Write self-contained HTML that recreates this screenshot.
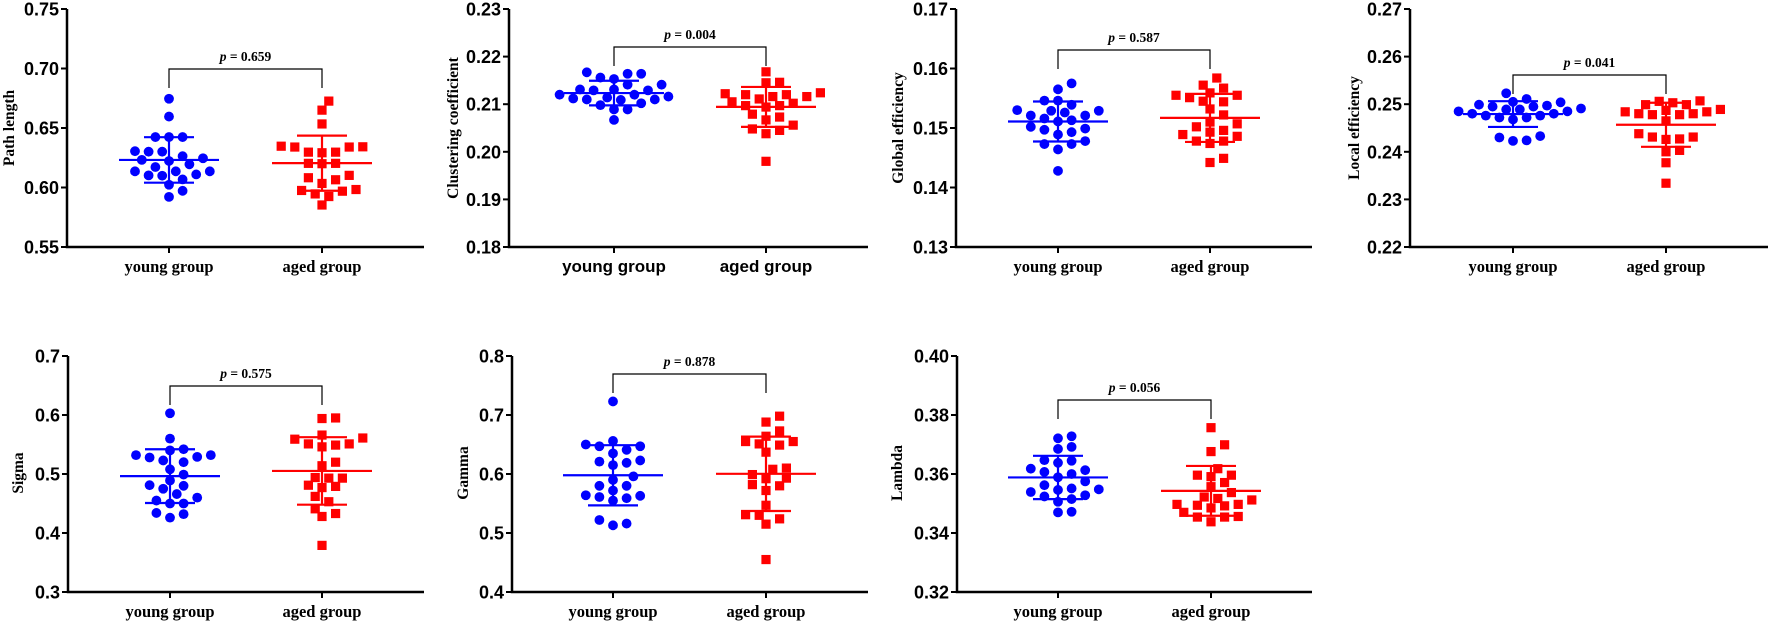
<!DOCTYPE html>
<html><head><meta charset="utf-8"><style>
html,body{margin:0;padding:0;background:#fff;}
svg{display:block;}
</style></head><body>
<svg id="chart" width="1772" height="625" viewBox="0 0 1772 625" xmlns="http://www.w3.org/2000/svg"></svg>
<script>
// ---- data ----
const groupLabels = ["young group", "aged group"];
const pathYoung = [0.6746,0.6596,0.6424,0.6424,0.6424,0.6301,0.6301,0.6305,0.6263,0.6232,0.6223,0.6246,0.6195,0.6172,0.6136,0.6110,0.6099,0.6068,0.6102,0.6136,0.6136,0.6023,0.5972,0.5921];
const pathAged = [0.6726,0.6650,0.6534,0.6342,0.6340,0.6340,0.6347,0.6297,0.6292,0.6297,0.6203,0.6200,0.6203,0.6102,0.6065,0.6082,0.6034,0.5983,0.5975,0.5946,0.5969,0.5924,0.5853];
const clusYoung = [0.2153,0.2156,0.2164,0.2164,0.2167,0.2141,0.2141,0.2131,0.2129,0.2129,0.2131,0.2120,0.2114,0.2112,0.2110,0.2102,0.2098,0.2109,0.2110,0.2089,0.2089,0.2067,0.2116,0.2120];
const clusAged = [0.2168,0.2145,0.2146,0.2124,0.2120,0.2116,0.2111,0.2116,0.2120,0.2122,0.2097,0.2094,0.2105,0.2097,0.2102,0.2073,0.2079,0.2056,0.2067,0.2045,0.2038,0.2048,0.1980];
const globYoung = [0.1575,0.1565,0.1546,0.1546,0.1539,0.1526,0.1530,0.1529,0.1521,0.1521,0.1529,0.1513,0.1516,0.1511,0.1502,0.1499,0.1497,0.1493,0.1489,0.1478,0.1473,0.1473,0.1464,0.1428];
const globAged = [0.1584,0.1572,0.1567,0.1559,0.1555,0.1555,0.1551,0.1544,0.1545,0.1532,0.1522,0.1510,0.1507,0.1502,0.1493,0.1496,0.1486,0.1489,0.1478,0.1478,0.1474,0.1449,0.1442];
const locYoung = [0.2523,0.2511,0.2505,0.2504,0.2499,0.2495,0.2495,0.2497,0.2489,0.2489,0.2485,0.2485,0.2480,0.2480,0.2476,0.2476,0.2472,0.2472,0.2468,0.2433,0.2430,0.2424,0.2423,0.2491];
const locAged = [0.2507,0.2506,0.2503,0.2499,0.2499,0.2487,0.2489,0.2484,0.2484,0.2480,0.2480,0.2478,0.2478,0.2465,0.2438,0.2431,0.2431,0.2427,0.2426,0.2400,0.2403,0.2377,0.2334];
const sigmaYoung = [0.603,0.560,0.540,0.542,0.532,0.528,0.529,0.532,0.523,0.520,0.508,0.499,0.489,0.481,0.480,0.475,0.466,0.455,0.460,0.450,0.450,0.434,0.432,0.426];
const sigmaAged = [0.594,0.595,0.561,0.566,0.559,0.551,0.549,0.551,0.546,0.520,0.514,0.494,0.493,0.493,0.481,0.479,0.477,0.462,0.453,0.441,0.433,0.428,0.379];
const gammaYoung = [0.723,0.656,0.647,0.647,0.650,0.641,0.635,0.623,0.619,0.621,0.615,0.596,0.590,0.580,0.580,0.572,0.563,0.561,0.564,0.559,0.555,0.522,0.516,0.513];
const gammaAged = [0.698,0.688,0.673,0.664,0.655,0.655,0.649,0.651,0.637,0.610,0.608,0.599,0.592,0.593,0.580,0.582,0.572,0.547,0.531,0.530,0.524,0.515,0.455];
const lambdaYoung = [0.3721,0.3728,0.3685,0.3692,0.3645,0.3647,0.3638,0.3613,0.3618,0.3607,0.3600,0.3589,0.3575,0.3562,0.3551,0.3546,0.3548,0.3539,0.3528,0.3524,0.3515,0.3506,0.3470,0.3472];
const lambdaAged = [0.3757,0.3699,0.3676,0.3618,0.3596,0.3591,0.3596,0.3571,0.3557,0.3537,0.3522,0.3517,0.3512,0.3497,0.3494,0.3492,0.3497,0.3485,0.3470,0.3454,0.3454,0.3456,0.3438];
const pValues = ["0.659","0.004","0.587","0.041","0.575","0.878","0.056"];
const axisTitles = ["Path length","Clustering coefficient","Global efficiency","Local efficiency","Sigma","Gamma","Lambda"];
const tickLabels = [
 ["0.55","0.60","0.65","0.70","0.75"],
 ["0.18","0.19","0.20","0.21","0.22","0.23"],
 ["0.13","0.14","0.15","0.16","0.17"],
 ["0.22","0.23","0.24","0.25","0.26","0.27"],
 ["0.3","0.4","0.5","0.6","0.7"],
 ["0.4","0.5","0.6","0.7","0.8"],
 ["0.32","0.34","0.36","0.38","0.40"]
];
const seriesYoung = [pathYoung,clusYoung,globYoung,locYoung,sigmaYoung,gammaYoung,lambdaYoung];
const seriesAged = [pathAged,clusAged,globAged,locAged,sigmaAged,gammaAged,lambdaAged];

// ---- layout ----
const layout = [
 {ax:67, top:9, bot:247, right:424, cx:[169,322], bY:69, tX:9, tY:128, lblY:272, sans:false},
 {ax:509, top:9, bot:247, right:868, cx:[614,766], bY:47, tX:453, tY:128, lblY:272, sans:true},
 {ax:956, top:9, bot:247, right:1312, cx:[1058,1210], bY:50, tX:898, tY:128, lblY:272, sans:false},
 {ax:1410, top:9, bot:247, right:1768, cx:[1513,1666], bY:75, tX:1354, tY:128, lblY:272, sans:false},
 {ax:68, top:356, bot:592, right:424, cx:[170,322], bY:386, tX:18, tY:473, lblY:617, sans:false},
 {ax:512, top:356, bot:592, right:868, cx:[613,766], bY:374, tX:463, tY:473, lblY:617, sans:false},
 {ax:957, top:356, bot:592, right:1312, cx:[1058,1211], bY:400, tX:897, tY:473, lblY:617, sans:false}
];
const NS = "http://www.w3.org/2000/svg";
const svg = document.getElementById("chart");
function mk(tag, attrs, parent){
  const e = document.createElementNS(NS, tag);
  for (const k in attrs) e.setAttribute(k, attrs[k]);
  (parent||svg).appendChild(e);
  return e;
}
function mean(a){return a.reduce((s,v)=>s+v,0)/a.length;}
function sd(a){const m=mean(a);return Math.sqrt(a.reduce((s,v)=>s+(v-m)*(v-m),0)/(a.length-1));}
function swarm(ys, step, dia){
  const idx = ys.map((y,i)=>i).sort((a,b)=>ys[b]-ys[a]);
  const placed = []; const off = new Array(ys.length).fill(0);
  idx.forEach(i=>{
    for (let k=0;k<40;k++){
      const cands = k===0?[0]:[k*step,-k*step];
      let ok=null;
      for (const c of cands){
        if (placed.every(p=>Math.hypot(p.x-c,p.y-ys[i])>=dia)){ok=c;break;}
      }
      if (ok!==null){off[i]=ok;placed.push({x:ok,y:ys[i]});break;}
    }
  });
  return off;
}
const serif = '"Liberation Serif", serif';
const sans = '"Liberation Sans", Arial, sans-serif';

layout.forEach((L, pi)=>{
  const g = mk("g", {});
  
  
  const ticks = tickLabels[pi].map(Number);
  const ymin = ticks[0], ymax = ticks[ticks.length-1];
  const yS = v => L.bot - (v - ymin) / (ymax - ymin) * (L.bot - L.top);
  // axes
  const axes = mk("path", {d:`M${L.ax},${L.top} V${L.bot} H${L.right}`, fill:"none", stroke:"#000", "stroke-width":2.5}, g);
  
  
  ticks.forEach((t, ti)=>{
    const y = yS(t);
    const tk = mk("line", {x1:L.ax-6, x2:L.ax, y1:y, y2:y, stroke:"#000", "stroke-width":2}, g);
    
    
    const tl = mk("text", {x:L.ax-8, y:y+6.5, "text-anchor":"end", "font-family":sans, "font-weight":"bold", "font-size":18, fill:"#000"}, g);
    tl.textContent = tickLabels[pi][ti];
    
    
  });
  const tt = mk("text", {x:0, y:0, transform:`translate(${L.tX+5},${L.tY}) rotate(-90)`, "text-anchor":"middle", "font-family":serif, "font-weight":"bold", "font-size":15.5, fill:"#000"}, g);
  tt.textContent = axisTitles[pi];
  
  
  const data = [seriesYoung[pi], seriesAged[pi]];
  const colors = ["#0000ff", "#ff0000"];
  data.forEach((arr, gi)=>{
    const cx = L.cx[gi];
    const xt = mk("line", {x1:cx, x2:cx, y1:L.bot, y2:L.bot+6, stroke:"#000", "stroke-width":2}, g);
    
    
    const xl = mk("text", {x:cx, y:L.lblY, "text-anchor":"middle", "font-family":L.sans?sans:serif, "font-weight":"bold", "font-size":L.sans?17:16.5, fill:"#000"}, g);
    xl.textContent = groupLabels[gi];
    
    
    const ys = arr.map(yS);
    const off = swarm(ys, 6.8, 10);
    arr.forEach((v, i)=>{
      let m;
      if (gi===0){
        m = mk("circle", {cx:cx+off[i], cy:ys[i], r:4.9, fill:colors[gi]}, g);
        
      } else {
        m = mk("rect", {x:cx+off[i]-4.6, y:ys[i]-4.6, width:9.2, height:9.2, fill:colors[gi]}, g);
        
      }
      
    });
    const mu = mean(arr), s = sd(arr);
    const ym = yS(mu), yu = yS(mu+s), yl = yS(mu-s);
    const ml = mk("line", {x1:cx-50, x2:cx+50, y1:ym, y2:ym, stroke:colors[gi], "stroke-width":2.2}, g);
    
    
    const sdp = mk("path", {d:`M${cx-25},${yu} H${cx+25} M${cx},${yu} V${yl} M${cx-25},${yl} H${cx+25}`, fill:"none", stroke:colors[gi], "stroke-width":2.2}, g);
    
    
  });
  // significance bracket
  const br = mk("path", {d:`M${L.cx[0]},${L.bY+19} V${L.bY} H${L.cx[1]} V${L.bY+19}`, fill:"none", stroke:"#000", "stroke-width":1.2}, g);
  
  
  const pt = mk("text", {x:(L.cx[0]+L.cx[1])/2, y:L.bY-8, "text-anchor":"middle", "font-family":serif, "font-weight":"bold", "font-size":13.5, fill:"#000"}, g);
  const pi1 = mk("tspan", {"font-style":"italic"}, pt); pi1.textContent = "p";
  const pi2 = mk("tspan", {}, pt); pi2.textContent = " = " + pValues[pi];
  
  
});
</script>
</body></html>
